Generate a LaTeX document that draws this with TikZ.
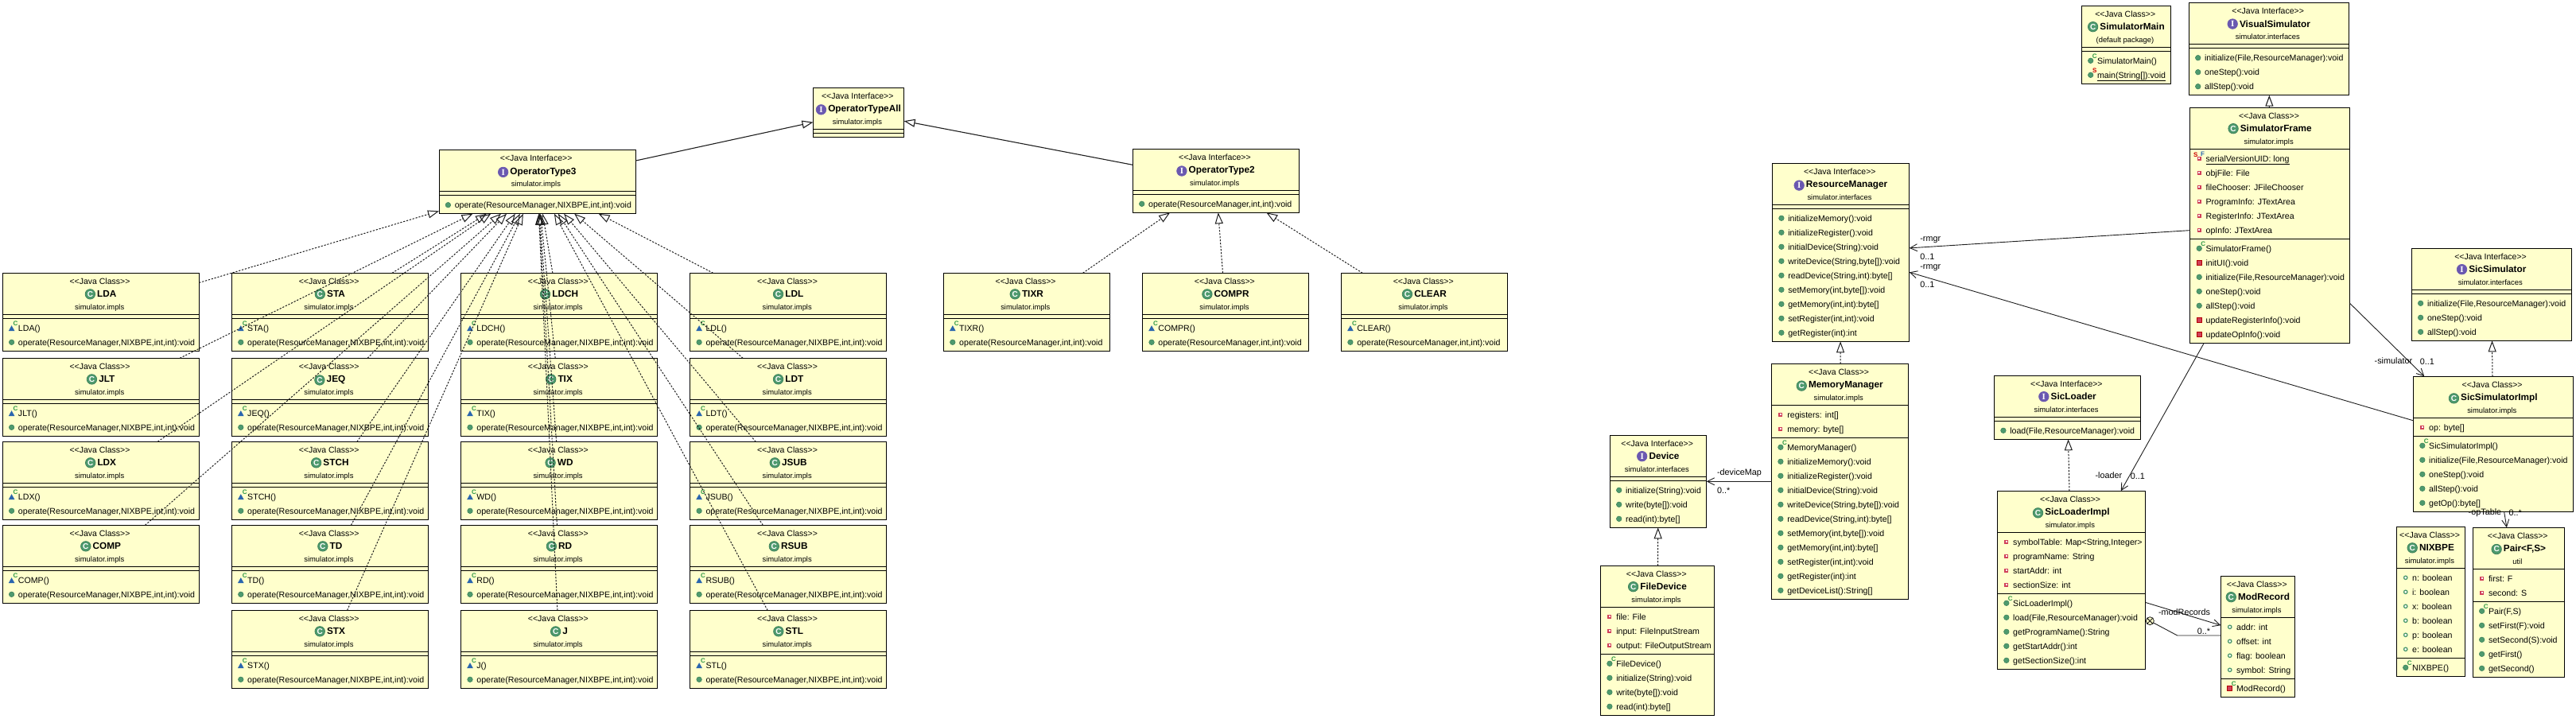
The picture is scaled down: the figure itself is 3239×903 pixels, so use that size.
\documentclass[tikz,border=0pt]{standalone}
\usepackage{fontspec}
\setmainfont{Liberation Sans}
\newfontfamily\markserif{Liberation Serif}
\usetikzlibrary{arrows.meta,positioning}
\definecolor{boxyellow}{HTML}{FFFFCC}
\definecolor{markgreen}{HTML}{4E9A6E}
\definecolor{markedge}{HTML}{3B7F58}
\definecolor{markpurple}{HTML}{6A58B0}
\definecolor{markred}{HTML}{D0405A}
\definecolor{markblue}{HTML}{2A66AE}
\definecolor{linegray}{HTML}{1E1E1E}
\tikzset{
  classbox/.style={draw=black,fill=boxyellow,line width=1pt,inner sep=0pt,outer sep=0pt,anchor=north west},
  rule/.style={draw=black,line width=1pt},
  stereotext/.style={anchor=base,inner sep=0pt,font=\fontsize{10.5}{12}\selectfont},
  titletext/.style={anchor=base,inner sep=0pt,font=\bfseries\fontsize{11.8}{13}\selectfont},
  packagetext/.style={anchor=base,inner sep=0pt,font=\fontsize{9.4}{11}\selectfont},
  rowtext/.style={anchor=base west,inner sep=0pt,font=\fontsize{10.6}{12}\selectfont},
  rolelabel/.style={anchor=base west,inner sep=0pt,font=\fontsize{10.8}{12}\selectfont},
  markClass/.style={circle,fill=markgreen,draw=markedge,line width=.7pt,text=white,inner sep=0pt,minimum size=12.5pt,font=\bfseries\fontsize{10}{10}\selectfont},
  markInterface/.style={circle,fill=markpurple,draw=markpurple,line width=.7pt,text=white,inner sep=0pt,minimum size=12.5pt,font=\markserif\bfseries\fontsize{11}{11}\selectfont},
  sideletter/.style={inner sep=0pt,font=\bfseries\fontsize{8}{8}\selectfont},
  realize/.style={draw=linegray,line width=1pt,dash pattern=on 2.2pt off 1.8pt,-{Triangle[open,length=14pt,width=10pt]}},
  extend/.style={draw=linegray,line width=1.1pt,-{Triangle[open,length=14pt,width=10pt]}},
  assoc/.style={draw=linegray,line width=.9pt,-{Straight Barb[length=9pt,width=9pt]}},
  nestline/.style={draw=linegray,line width=.9pt},
  nestmark/.style={circle,draw=linegray,line width=.8pt,fill=boxyellow,inner sep=0pt,minimum size=10pt}
}
\begin{document}
\begin{tikzpicture}[x=1pt,y=-1pt]
    \newcommand{\pubDot}{
        \fill[markgreen,draw=markedge,line width=.5pt] (0,0) circle (3.3pt);
    }
    \newcommand{\pkgCtor}{
        \fill[markblue] (-3.8,3.7) -- (3.8,3.7) -- (0,-3.1) -- cycle;
        \node[sideletter,text=markedge!80!green] (ctorletter) at (5,-6) {C};
    }
    \newcommand{\pubCtor}{
        \pubDot
        \node[sideletter,text=markedge!80!green] (ctorletter) at (5,-6) {C};
    }
    \newcommand{\prvCtor}{
        \prvSquare
        \node[sideletter,text=markedge!80!green] (ctorletter) at (5,-6) {C};
    }
    \newcommand{\pubStatic}{
        \pubDot
        \node[sideletter,text=red!80!black] (staticletter) at (5,-6) {S};
    }
    \newcommand{\prvSquare}{
        \fill[markred,draw=red!70!black,line width=.5pt] (-3,-3) rectangle (3,3);
    }
    \newcommand{\prvField}{
        \draw[markred,fill=white,line width=1.4pt] (-1.8,-1.8) rectangle (1.8,1.8);
    }
    \newcommand{\pubField}{
        \draw[markgreen,fill=white,line width=1.3pt] (0,0) circle (2.2pt);
    }
    \newcommand{\prvFinal}{
        \prvField
        \node[sideletter,text=red!80!black] (staticletter) at (-4.4,-5) {S};
        \node[sideletter,text=markblue] (finalletter) at (4.4,-5.3) {F};
    }
    \newcommand{\letterClass}{C}
    \newcommand{\letterInterface}{I}
    \newcount\rowtally
    \newcommand{\tallyrows}[1]{
        \global\rowtally=0
        \def\tmplist{#1}
        \ifx\tmplist\empty\else
            \foreach \rowitem in {#1}{\global\advance\rowtally by 1}
        \fi
    }
    \newcommand{\rowblock}[4]{
        \def\tmplist{#4}
        \ifx\tmplist\empty\else
        \foreach \ic/\tx [count=\ci] in {#4}{
            \pgfmathsetmacro{\rowy}{#3+12+18*(\ci-1)}
            \begin{scope}[shift={(#2+11.4,\rowy)}]
                \ic
            \end{scope}
            \node[rowtext] (#1\ci) at (#2+19.6,\rowy+3.7) {\tx};
        }
        \fi
    }
    \newcommand{\classbox}[9]{
        \tallyrows{#8}
        \pgfmathsetmacro{\fieldh}{18*\the\rowtally+5}
        \tallyrows{#9}
        \pgfmathsetmacro{\methodh}{18*\the\rowtally+5}
        \pgfmathsetmacro{\boxmid}{#2+#3/2}
        \pgfmathsetmacro{\fieldtop}{#4+52}
        \pgfmathsetmacro{\methodtop}{#4+52+\fieldh}
        \pgfmathsetmacro{\boxh}{52+\fieldh+\methodh}
        \node[classbox,minimum width=#3pt,minimum height=\boxh pt] (#1) at (#2,#4) {};
        \draw[rule] (#2,\fieldtop) -- (#2+#3,\fieldtop);
        \draw[rule] (#2,\methodtop) -- (#2+#3,\methodtop);
        \node[stereotext] (#1-stereo) at (\boxmid-1.3,#4+13.7) {<{}<Java #5>{}>};
        \node[titletext] (#1-title) at (\boxmid+7.5,#4+30.6) {#6};
        \node[mark#5,left=2pt of #1-title] (#1-mark) {\csname letter#5\endcsname};
        \node[packagetext] (#1-package) at (\boxmid-1.6,#4+46) {#7};
        \rowblock{#1-f}{#2}{\fieldtop}{#8}
        \rowblock{#1-m}{#2}{\methodtop}{#9}
    }
    \useasboundingbox (0,0) rectangle (3239,903);

    \classbox{OperatorTypeAll}{1022.5}{114.1}{110.3}{Interface}{OperatorTypeAll}{simulator.impls}{}{}
    \classbox{OperatorType3}{552}{247}{188.7}{Interface}{OperatorType3}{simulator.impls}{}{\pubDot/{operate(ResourceManager,NIXBPE,int,int):void}}
    \classbox{OperatorType2}{1424.3}{208.9}{187.3}{Interface}{OperatorType2}{simulator.impls}{}{\pubDot/{operate(ResourceManager,int,int):void}}

    \foreach \opname/\opx/\opy in {
        LDA/3.2/343.3,JLT/3.2/450.3,LDX/3.2/555.3,COMP/3.2/660.3,
        STA/291.4/343.3,JEQ/291.4/450.3,STCH/291.4/555.3,TD/291.4/660.3,STX/291.4/767.3,
        LDCH/579.6/343.3,TIX/579.6/450.3,WD/579.6/555.3,RD/579.6/660.3,J/579.6/767.3,
        LDL/867.7/343.3,LDT/867.7/450.3,JSUB/867.7/555.3,RSUB/867.7/660.3,STL/867.7/767.3}{
        \classbox{\opname}{\opx}{247.2}{\opy}{Class}{\opname}{simulator.impls}{}{\pkgCtor/{\opname()},\pubDot/{operate(ResourceManager,NIXBPE,int,int):void}}
    }
    \foreach \opname/\opx in {TIXR/1186.4,COMPR/1436.6,CLEAR/1686.5}{
        \classbox{\opname}{\opx}{209.1}{343.3}{Class}{\opname}{simulator.impls}{}{\pkgCtor/{\opname()},\pubDot/{operate(ResourceManager,int,int):void}}
    }

    \classbox{Device}{2024.3}{121.4}{547.3}{Interface}{Device}{simulator.interfaces}{}{
        \pubDot/{initialize(String):void},\pubDot/{write(byte[]):void},\pubDot/{read(int):byte[]}}
    \classbox{FileDevice}{2012.5}{143.2}{711.3}{Class}{FileDevice}{simulator.impls}{
        \prvField/{file: File},\prvField/{input: FileInputStream},\prvField/{output: FileOutputStream}}{
        \pubCtor/{FileDevice()},\pubDot/{initialize(String):void},\pubDot/{write(byte[]):void},\pubDot/{read(int):byte[]}}
    \classbox{ResourceManager}{2228.5}{172.2}{205.3}{Interface}{ResourceManager}{simulator.interfaces}{}{
        \pubDot/{initializeMemory():void},\pubDot/{initializeRegister():void},\pubDot/{initialDevice(String):void},
        \pubDot/{writeDevice(String,byte[]):void},\pubDot/{readDevice(String,int):byte[]},\pubDot/{setMemory(int,byte[]):void},
        \pubDot/{getMemory(int,int):byte[]},\pubDot/{setRegister(int,int):void},\pubDot/{getRegister(int):int}}
    \classbox{MemoryManager}{2227.5}{171.8}{457.3}{Class}{MemoryManager}{simulator.impls}{
        \prvField/{registers: int[]},\prvField/{memory: byte[]}}{
        \pubCtor/{MemoryManager()},\pubDot/{initializeMemory():void},\pubDot/{initializeRegister():void},\pubDot/{initialDevice(String):void},
        \pubDot/{writeDevice(String,byte[]):void},\pubDot/{readDevice(String,int):byte[]},\pubDot/{setMemory(int,byte[]):void},
        \pubDot/{getMemory(int,int):byte[]},\pubDot/{setRegister(int,int):void},\pubDot/{getRegister(int):int},\pubDot/{getDeviceList():String[]}}
    \classbox{SicLoader}{2507.5}{184.3}{472.3}{Interface}{SicLoader}{simulator.interfaces}{}{\pubDot/{load(File,ResourceManager):void}}
    \classbox{SicLoaderImpl}{2511.4}{186.1}{617.3}{Class}{SicLoaderImpl}{simulator.impls}{
        \prvField/{symbolTable: Map<String,Integer>},\prvField/{programName: String},\prvField/{startAddr: int},\prvField/{sectionSize: int}}{
        \pubCtor/{SicLoaderImpl()},\pubDot/{load(File,ResourceManager):void},\pubDot/{getProgramName():String},\pubDot/{getStartAddr():int},\pubDot/{getSectionSize():int}}
    \classbox{ModRecord}{2792.3}{93.4}{724.3}{Class}{ModRecord}{simulator.impls}{
        \pubField/{addr: int},\pubField/{offset: int},\pubField/{flag: boolean},\pubField/{symbol: String}}{\prvCtor/{ModRecord()}}
    \classbox{SimulatorMain}{2617.3}{112.5}{7.3}{Class}{SimulatorMain}{(default package)}{}{
        \pubCtor/{SimulatorMain()},\pubStatic/{\underline{main(String[]):void}}}
    \classbox{VisualSimulator}{2752.3}{201.3}{3.7}{Interface}{VisualSimulator}{simulator.interfaces}{}{
        \pubDot/{initialize(File,ResourceManager):void},\pubDot/{oneStep():void},\pubDot/{allStep():void}}
    \classbox{SimulatorFrame}{2753.8}{200.9}{135.3}{Class}{SimulatorFrame}{simulator.impls}{
        \prvFinal/{\underline{serialVersionUID: long}},\prvField/{objFile: File},\prvField/{fileChooser: JFileChooser},
        \prvField/{ProgramInfo: JTextArea},\prvField/{RegisterInfo: JTextArea},\prvField/{opInfo: JTextArea}}{
        \pubCtor/{SimulatorFrame()},\prvSquare/{initUI():void},\pubDot/{initialize(File,ResourceManager):void},\pubDot/{oneStep():void},
        \pubDot/{allStep():void},\prvSquare/{updateRegisterInfo():void},\prvSquare/{updateOpInfo():void}}
    \classbox{SicSimulator}{3032.2}{201.3}{312.3}{Interface}{SicSimulator}{simulator.interfaces}{}{
        \pubDot/{initialize(File,ResourceManager):void},\pubDot/{oneStep():void},\pubDot/{allStep():void}}
    \classbox{SicSimulatorImpl}{3034.4}{201}{473.3}{Class}{SicSimulatorImpl}{simulator.impls}{\prvField/{op: byte[]}}{
        \pubCtor/{SicSimulatorImpl()},\pubDot/{initialize(File,ResourceManager):void},\pubDot/{oneStep():void},\pubDot/{allStep():void},\pubDot/{getOp():byte[]}}
    \classbox{NIXBPE}{3013.3}{86.3}{662.3}{Class}{NIXBPE}{simulator.impls}{
        \pubField/{n: boolean},\pubField/{i: boolean},\pubField/{x: boolean},\pubField/{b: boolean},\pubField/{p: boolean},\pubField/{e: boolean}}{\pubCtor/{NIXBPE()}}
    \classbox{Pair}{3109.2}{115.5}{663.3}{Class}{Pair<F,S>}{util}{
        \prvField/{first: F},\prvField/{second: S}}{
        \pubCtor/{Pair(F,S)},\pubDot/{setFirst(F):void},\pubDot/{setSecond(S):void},\pubDot/{getFirst()},\pubDot/{getSecond()}}

    \foreach \opname in {LDA,JLT,LDX,COMP,STA,JEQ,STCH,TD,STX,LDCH,TIX,WD,RD,J,LDL,LDT,JSUB,RSUB,STL}{
        \draw[realize] (\opname) -- (OperatorType3);
    }
    \foreach \opname in {TIXR,COMPR,CLEAR}{
        \draw[realize] (\opname) -- (OperatorType2);
    }
    \draw[extend] (OperatorType3) -- (OperatorTypeAll);
    \draw[extend] (OperatorType2) -- (OperatorTypeAll);
    \draw[realize] (FileDevice) -- (Device);
    \draw[realize] (MemoryManager) -- (ResourceManager);
    \draw[realize] (SicLoaderImpl) -- (SicLoader);
    \draw[realize] (SicSimulatorImpl) -- (SicSimulator);
    \draw[extend] (SimulatorFrame) -- (VisualSimulator);

    \draw[assoc] (SimulatorFrame) -- (ResourceManager);
    \draw[assoc] (SicSimulatorImpl) -- (ResourceManager);
    \draw[assoc] (MemoryManager) -- (Device);
    \draw[assoc] (SimulatorFrame) -- (SicLoaderImpl);
    \draw[assoc] (SimulatorFrame) -- (SicSimulatorImpl);
    \draw[assoc] (SicSimulatorImpl) -- (Pair);
    \draw[assoc] (SicLoaderImpl) -- (ModRecord);

    \node[nestmark] (nest) at (2703.3,780.7) {};
    \draw[nestline] (nest.north west) -- (nest.south east);
    \draw[nestline] (nest.north east) -- (nest.south west);
    \coordinate (nestbend) at (2737.7,799);
    \draw[nestline] (nest) -- (nestbend) -- (ModRecord.west |- nestbend);

    \node[rolelabel] (rmgrA) at (2414.1,303) {-rmgr};
    \node[rolelabel] (multA) at (2414.1,326) {0..1};
    \node[rolelabel] (rmgrB) at (2414.1,338.4) {-rmgr};
    \node[rolelabel] (multB) at (2414.1,361) {0..1};
    \node[rolelabel] (deviceMap) at (2158.9,597) {-deviceMap};
    \node[rolelabel] (multC) at (2158.9,620) {0..*};
    \node[rolelabel] (loader) at (2634.3,601) {-loader};
    \node[rolelabel] (multD) at (2678.6,602) {0..1};
    \node[rolelabel] (simulator) at (2985.5,457) {-simulator};
    \node[rolelabel] (multE) at (3042.6,458) {0..1};
    \node[rolelabel] (opTable) at (3103.5,647.4) {-opTable};
    \node[rolelabel] (multF) at (3154.5,648) {0..*};
    \node[rolelabel] (modRecords) at (2713.9,773.7) {-modRecords};
    \node[rolelabel] (multG) at (2762.7,797) {0..*};
\end{tikzpicture}
\end{document}
